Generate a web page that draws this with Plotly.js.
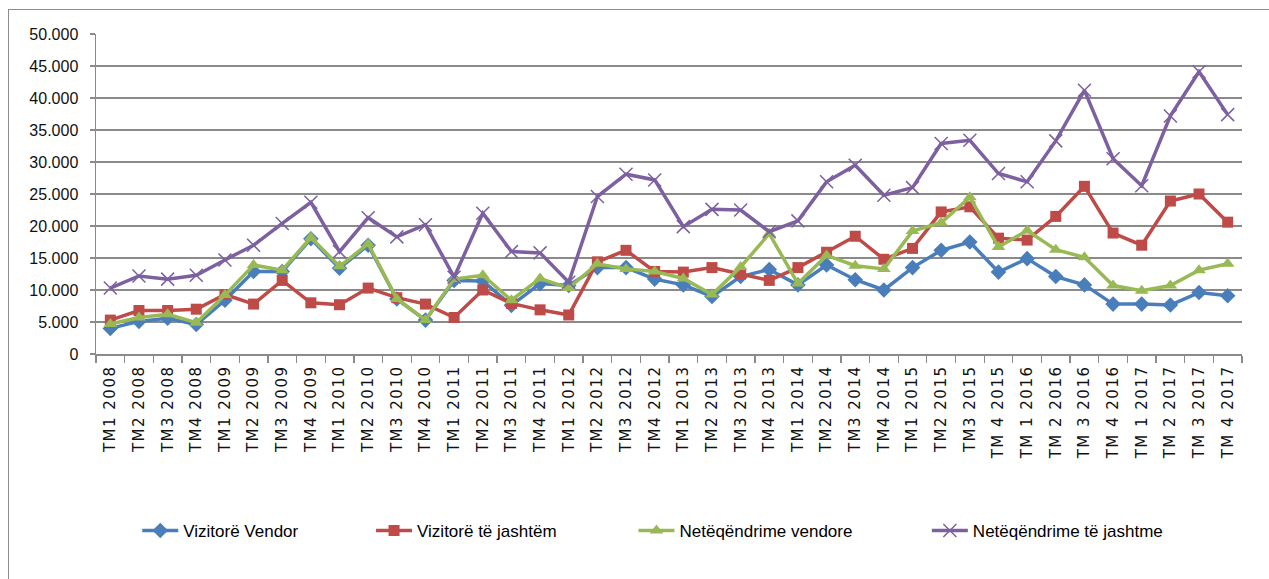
<!DOCTYPE html>
<html>
<head>
<meta charset="utf-8">
<script src="https://cdn.plot.ly/plotly-3.0.1.min.js"></script>
<style>
  html, body { margin: 0; padding: 0; background: #ffffff; }
  #wrap { position: relative; width: 1269px; height: 579px; overflow: hidden; }
  #chart { position: absolute; left: 0; top: 0; width: 1269px; height: 579px; }
  #frame { position: absolute; left: 8px; top: 9px; width: 1280px; height: 600px;
           border-top: 1.5px solid #8c8c8c; border-left: 1.5px solid #8c8c8c; pointer-events: none; }
  .xtick text { letter-spacing: 1.5px; }
</style>
</head>
<body>
<div id="wrap">
  <div id="chart"></div>
  <div id="frame"></div>
</div>
<script>
const categories = [
  "TM1 2008","TM2 2008","TM3 2008","TM4 2008",
  "TM1 2009","TM2 2009","TM3 2009","TM4 2009",
  "TM1 2010","TM2 2010","TM3 2010","TM4 2010",
  "TM1 2011","TM2 2011","TM3 2011","TM4 2011",
  "TM1 2012","TM2 2012","TM3 2012","TM4 2012",
  "TM1 2013","TM2 2013","TM3 2013","TM4 2013",
  "TM1 2014","TM2 2014","TM3 2014","TM4 2014",
  "TM1 2015","TM2 2015","TM3 2015","TM 4 2015",
  "TM 1 2016","TM 2 2016","TM 3 2016","TM 4 2016",
  "TM 1 2017","TM 2 2017","TM 3 2017","TM 4 2017"
];

const vizitoreVendor = [
  4000, 5100, 5600, 4600, 8400, 12900, 12900, 18000,
  13400, 17000, 8600, 5300, 11500, 11400, 7600, 11000,
  10700, 13500, 13500, 11700, 10800, 9000, 12100, 13200,
  10800, 13900, 11600, 10000, 13500, 16200, 17500, 12800,
  14900, 12100, 10800, 7800, 7800, 7650, 9600, 9100
];

const vizitoreTeJashtem = [
  5300, 6800, 6800, 7000, 9300, 7800, 11500, 8000,
  7700, 10300, 8800, 7800, 5700, 10000, 7900, 6900,
  6100, 14400, 16200, 12900, 12800, 13500, 12500, 11500,
  13500, 15900, 18400, 14800, 16500, 22200, 23000, 18100,
  17800, 21500, 26200, 18900, 17000, 23900, 25000, 20600
];

const neteqendrimeVendore = [
  4700, 5700, 6200, 4900, 9200, 13900, 13100, 18200,
  13700, 17200, 8600, 5300, 11700, 12300, 8400, 11800,
  10300, 14100, 13300, 12900, 11800, 9300, 13600, 18800,
  11000, 15400, 13800, 13300, 19200, 20500, 24500, 16700,
  19300, 16300, 15100, 10700, 9900, 10700, 13100, 14100
];

const neteqendrimeTeJashtme = [
  10300, 12200, 11700, 12300, 14700, 17000, 20400, 23700,
  16000, 21300, 18300, 20200, 12000, 22000, 16000, 15800,
  11200, 24600, 28100, 27200, 19900, 22600, 22500, 19100,
  20800, 26900, 29500, 24800, 26000, 32900, 33400, 28200,
  26900, 33300, 41200, 30500, 26300, 37200, 44100, 37400
];

const seriesNames = ["Vizitorë Vendor", "Vizitorë të jashtëm", "Netëqëndrime vendore", "Netëqëndrime të jashtme"];
const seriesColors = ["#4A7EBB", "#BE4B48", "#98B954", "#7D60A0"];

const legendFont = { family: "Liberation Sans, Arial, sans-serif", size: 17, color: "#000000" };

const traces = [
  {
    x: categories, y: vizitoreVendor, name: seriesNames[0], type: "scatter", mode: "lines+markers",
    line: { color: seriesColors[0], width: 3.5 },
    marker: { symbol: "diamond", size: 12, color: seriesColors[0] },
    legend: "legend"
  },
  {
    x: categories, y: vizitoreTeJashtem, name: seriesNames[1], type: "scatter", mode: "lines+markers",
    line: { color: seriesColors[1], width: 3.5 },
    marker: { symbol: "square", size: 11, color: seriesColors[1] },
    legend: "legend2"
  },
  {
    x: categories, y: neteqendrimeVendore, name: seriesNames[2], type: "scatter", mode: "lines+markers",
    line: { color: seriesColors[2], width: 3.5 },
    marker: { symbol: "triangle-up", size: 12, color: seriesColors[2] },
    legend: "legend3"
  },
  {
    x: categories, y: neteqendrimeTeJashtme, name: seriesNames[3], type: "scatter", mode: "lines+markers",
    line: { color: seriesColors[3], width: 3.5 },
    marker: { symbol: "x-thin", size: 13, color: seriesColors[3], line: { color: seriesColors[3], width: 1.5 } },
    legend: "legend4"
  }
];

function legendAt(x) {
  return {
    orientation: "h", x: x, xanchor: "left", y: -0.553, yanchor: "middle",
    font: legendFont, bgcolor: "rgba(0,0,0,0)", borderwidth: 0, itemwidth: 36
  };
}

const layout = {
  width: 1269, height: 579,
  margin: { l: 96, r: 27, t: 34, b: 225, pad: 0 },
  paper_bgcolor: "rgba(0,0,0,0)",
  plot_bgcolor: "#ffffff",
  separators: ",.",
  showlegend: true,
  xaxis: {
    type: "category",
    automargin: false,
    showgrid: false,
    showline: true, linecolor: "#8a8a8a", linewidth: 1.5,
    ticks: "outside", tickson: "boundaries", ticklen: 7, tickcolor: "#8a8a8a", tickwidth: 1.3,
    tickangle: -90,
    ticklabelstandoff: 4,
    tickfont: { family: "DejaVu Sans, Arial, sans-serif", size: 15, color: "#111111" },
    range: [-0.5, 39.5]
  },
  yaxis: {
    automargin: false,
    range: [0, 50000], dtick: 5000, tick0: 0,
    tickformat: ",d",
    showgrid: true, gridcolor: "#8a8a8a", gridwidth: 1.4,
    zeroline: false,
    showline: true, linecolor: "#8a8a8a", linewidth: 1.5,
    ticks: "outside", ticklen: 5, tickcolor: "#8a8a8a", tickwidth: 1.3,
    ticklabelstandoff: 8,
    tickfont: { family: "Liberation Sans, Arial, sans-serif", size: 16, color: "#111111" }
  },
  legend: legendAt(0.036),
  legend2: legendAt(0.240),
  legend3: legendAt(0.469),
  legend4: legendAt(0.725)
};

Plotly.newPlot("chart", traces, layout, { displayModeBar: false, staticPlot: true });
</script>
</body>
</html>
